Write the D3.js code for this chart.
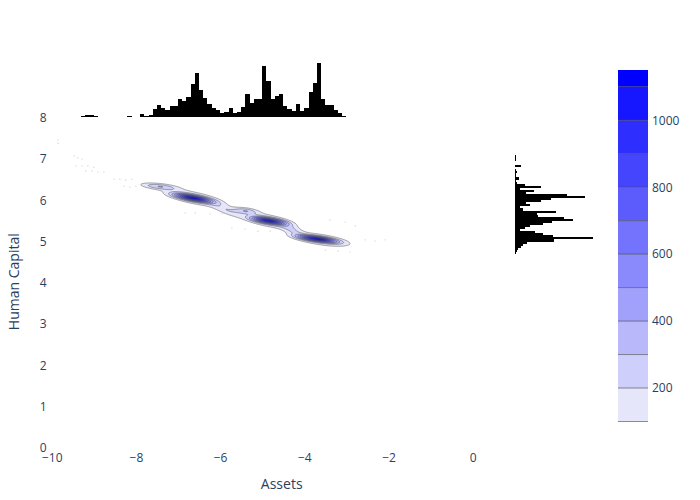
<!DOCTYPE html>
<html>
<head>
<meta charset="utf-8">
<script src="https://cdn.jsdelivr.net/npm/d3@7"></script>
<style>
body { margin: 0; background: #fff; }
text { font-family: "Open Sans", verdana, arial, sans-serif; fill: #2a3f5f; }
</style>
</head>
<body>
<div id="chart"></div>
<script>
// marginal histogram of Assets (top), bins of 0.1 from -9.5
var assetBinStart = -9.5, assetBinSize = 0.1;
var assetCounts = [2, 2, 4, 6, 6, 3, 1, 1, 0, 0, 0, 0,
  2, 3, 1, 1, 10, 5, 7, 25, 37, 28, 22, 34, 34, 55, 48, 61, 100, 133, 82, 58, 40, 28, 22, 14, 17, 28, 14,
  17, 32, 71, 44, 55, 55, 155, 109, 55, 64, 69, 34, 24, 20, 41, 19, 28, 76, 103, 164, 55, 38, 38, 22, 12, 5, 2];

// marginal histogram of Human Capital (right), bins of 0.05 from 4.7
var capitalBinStart = 4.7, capitalBinSize = 0.05;
var capitalCounts = [2, 5, 10, 17, 25, 35, 117, 233, 114, 84, 60, 15, 30, 45, 84, 110, 174, 147, 69, 65,
  122, 24, 15, 45, 33, 77, 107, 210, 155, 32, 57, 15, 78, 29, 5, 3, 11, 2, 3, 5, 3, 0, 18, 0, 0, 2, 2, 2];

// density clusters
var blobX    = [-6.65, -6.6, -4.85, -4.85, -3.7, -3.6, -7.45, -5.4, -5.85, -4.3];
var blobY    = [6.05, 6.05, 5.5, 5.5, 5.06, 5.04, 6.33, 5.74, 5.75, 5.28];
var blobSx   = [0.28, 0.45, 0.25, 0.4, 0.28, 0.45, 0.3, 0.2, 0.25, 0.2];
var blobSy   = [0.045, 0.1, 0.045, 0.1, 0.04, 0.09, 0.05, 0.05, 0.08, 0.08];
var blobTilt = [-0.17, -0.2, -0.14, -0.2, -0.13, -0.15, -0.1, -0.1, -0.35, -0.4];
var blobPeak = [900, 260, 850, 260, 900, 260, 280, 250, 150, 150];

// isolated specks outside the main contours
var speckX = [-9.85, -9.85, -9.47, -9.38, -9.28, -9.42, -9.28, -9.14, -9.0, -9.19, -9.04, -8.9, -8.76,
  -8.52, -8.38, -8.24, -8.1, -8.28, -8.14, -8.0, -6.83, -6.59, -6.24, -5.95, -5.72, -5.41, -5.1, -4.81,
  -3.39, -3.03, -2.79, -3.5, -3.2, -2.91, -2.55, -2.32, -2.08];
var speckY = [7.46, 7.38, 7.07, 7.02, 7.0, 6.83, 6.83, 6.83, 6.8, 6.71, 6.71, 6.68, 6.68,
  6.51, 6.51, 6.49, 6.51, 6.34, 6.32, 6.34, 5.69, 5.69, 5.67, 5.67, 5.33, 5.3, 5.25, 5.25,
  5.52, 5.47, 5.38, 4.79, 4.77, 4.75, 5.04, 5.01, 5.04];

var levels = [100, 200, 300, 400, 500, 600, 700, 800, 900, 1000, 1100];
var xTicks = [-10, -8, -6, -4, -2, 0];
var yTicks = [0, 1, 2, 3, 4, 5, 6, 7, 8];
var colorTicks = [200, 400, 600, 800, 1000];

var svg = d3.select("#chart").append("svg")
    .attr("width", 700)
    .attr("height", 500);

var x = d3.scaleLinear().domain([-10, 0]).range([51.7, 472.7]);
var y = d3.scaleLinear().domain([0, 8]).range([448, 117.6]);
var yTop = d3.scaleLinear().domain([0, 172]).range([117.3, 60]);
var xRight = d3.scaleLinear().domain([0, 245]).range([515, 596.7]);
var c = d3.scaleLinear().domain([100, 1150]).range([421.5, 70]);
var bandColor = d3.interpolateRgb("rgb(230,230,250)", "rgb(0,0,255)");

// specks
svg.append("g").selectAll("circle")
    .data(speckX)
  .enter().append("circle")
    .attr("cx", function(d) { return x(d); })
    .attr("cy", function(d, i) { return y(speckY[i]); })
    .attr("r", 0.7)
    .attr("fill", "#9a9ac4")
    .attr("opacity", 0.45);

// density grid from the clusters
var gx0 = -8.4, gy0 = 4.5, dxs = 0.01, dys = 0.004;
var n = 600, m = 600;
var values = new Float64Array(n * m);
for (var j = 0; j < m; j++) {
  for (var i = 0; i < n; i++) {
    var px = gx0 + i * dxs, py = gy0 + j * dys, v = 0;
    for (var k = 0; k < blobX.length; k++) {
      var ddx = px - blobX[k];
      var ddy = py - blobY[k] - blobTilt[k] * ddx;
      v += blobPeak[k] * Math.exp(-0.5 * (ddx * ddx / (blobSx[k] * blobSx[k]) + ddy * ddy / (blobSy[k] * blobSy[k])));
    }
    values[j * n + i] = v;
  }
}

var contours = d3.contours().size([n, m]).thresholds(levels)(values);
var proj = d3.geoTransform({
  point: function(px, py) { this.stream.point(x(gx0 + px * dxs), y(gy0 + py * dys)); }
});
var path = d3.geoPath(proj);

svg.append("g").selectAll("path")
    .data(contours)
  .enter().append("path")
    .attr("d", path)
    .attr("fill", function(d) { return bandColor(levels.indexOf(d.value) / 10); })
    .attr("stroke", "#444")
    .attr("stroke-width", 0.5)
    .attr("stroke-linejoin", "round");

// top histogram
svg.append("g")
    .attr("shape-rendering", "crispEdges")
  .selectAll("rect")
    .data(assetCounts)
  .enter().append("rect")
    .attr("x", function(d, i) { return x(assetBinStart + i * assetBinSize); })
    .attr("width", function(d, i) { return x(assetBinStart + (i + 1) * assetBinSize) - x(assetBinStart + i * assetBinSize); })
    .attr("y", function(d) { return yTop(d); })
    .attr("height", function(d) { return yTop(0) - yTop(d); })
    .attr("fill", "#000");

// right histogram
svg.append("g")
    .attr("shape-rendering", "crispEdges")
  .selectAll("rect")
    .data(capitalCounts)
  .enter().append("rect")
    .attr("x", xRight(0))
    .attr("y", function(d, i) { return y(capitalBinStart + (i + 1) * capitalBinSize); })
    .attr("height", function(d, i) { return y(capitalBinStart + i * capitalBinSize) - y(capitalBinStart + (i + 1) * capitalBinSize); })
    .attr("width", function(d) { return xRight(d) - xRight(0); })
    .attr("fill", "#000");

// axes
var gx = svg.append("g")
    .attr("transform", "translate(0,448)")
    .call(d3.axisBottom(x).tickValues(xTicks).tickSize(0).tickPadding(5.5));
var gy = svg.append("g")
    .attr("transform", "translate(51.7,0)")
    .call(d3.axisLeft(y).tickValues(yTicks).tickSize(0).tickPadding(5));
[gx, gy].forEach(function(g) {
  g.select(".domain").remove();
  g.selectAll("text").attr("font-size", 12).attr("font-family", null).style("fill", "#2a3f5f");
});

svg.append("text")
    .attr("x", 281.7)
    .attr("y", 489)
    .attr("text-anchor", "middle")
    .attr("font-size", 14)
    .text("Assets");

svg.append("text")
    .attr("transform", "translate(18.5,281.7) rotate(-90)")
    .attr("text-anchor", "middle")
    .attr("font-size", 14)
    .text("Human Capital");

// colorbar
var bar = svg.append("g");
bar.selectAll("rect")
    .data(levels)
  .enter().append("rect")
    .attr("x", 618)
    .attr("width", 30)
    .attr("y", function(d, i) { return c(i < levels.length - 1 ? levels[i + 1] : 1150); })
    .attr("height", function(d, i) { return c(d) - c(i < levels.length - 1 ? levels[i + 1] : 1150); })
    .attr("fill", function(d, i) { return bandColor(i / 10); });
bar.selectAll("line")
    .data(levels)
  .enter().append("line")
    .attr("x1", 618)
    .attr("x2", 648)
    .attr("y1", function(d) { return c(d); })
    .attr("y2", function(d) { return c(d); })
    .attr("stroke", "#444")
    .attr("stroke-width", 0.6);

var gc = svg.append("g")
    .attr("transform", "translate(648,0)")
    .call(d3.axisRight(c).tickValues(colorTicks).tickFormat(d3.format("d")).tickSize(0).tickPadding(4));
gc.select(".domain").remove();
gc.selectAll("text").attr("font-size", 12).attr("font-family", null).style("fill", "#2a3f5f");
</script>
</body>
</html>
